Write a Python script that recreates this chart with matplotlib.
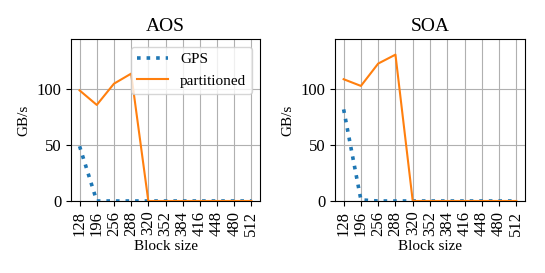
import matplotlib
matplotlib.use('Agg')
import matplotlib.pyplot as plt

# ── Data ─────────────────────────────────────────────────────────────────────
block_sizes = ['128', '196', '256', '288', '320', '352', '384', '416', '448', '480', '512']

aos_gps = [49, 0, 0, 0, 0, 0, 0, 0, 0, 0, 0]
aos_partitioned = [99, 86, 105, 114, 0, 0, 0, 0, 0, 0, 0]

soa_gps = [82, 1, 0, 0, 0, 0, 0, 0, 0, 0, 0]
soa_partitioned = [109, 103, 123, 131, 0, 0, 0, 0, 0, 0, 0]

# ── Style ────────────────────────────────────────────────────────────────────
plt.rcParams.update({
    'font.family': 'serif',
    'font.serif': ['Liberation Serif', 'DejaVu Serif'],
    'font.size': 11,
    'axes.titlesize': 14,
    'axes.labelsize': 11,
    'xtick.labelsize': 12,
    'ytick.labelsize': 12,
    'legend.fontsize': 11,
})

COLOR_GPS = '#1f77b4'
COLOR_PART = '#ff7f0e'

fig = plt.figure(figsize=(5.45, 2.73), dpi=100)
ax1 = fig.add_axes([71 / 545, 1 - 201 / 273, 189 / 545, 162 / 273])
ax2 = fig.add_axes([335 / 545, 1 - 201 / 273, 190 / 545, 162 / 273])

x = list(range(len(block_sizes)))

for ax, title, gps, part in [(ax1, 'AOS', aos_gps, aos_partitioned),
                             (ax2, 'SOA', soa_gps, soa_partitioned)]:
    ax.plot(x, gps, linestyle=':', linewidth=2.6, color=COLOR_GPS, label='GPS', zorder=3)
    ax.plot(x, part, linestyle='-', linewidth=1.5, color=COLOR_PART, label='partitioned', zorder=3)
    ax.set_title(title)
    ax.set_ylabel('GB/s')
    ax.set_xlabel('Block size', labelpad=3)
    ax.set_xticks(x)
    ax.set_xticklabels(block_sizes, rotation=90)
    ax.set_yticks([0, 50, 100])
    ax.set_xlim(-0.5, len(block_sizes) - 0.5)
    ax.set_ylim(0, 145)
    ax.grid(True, color='#b0b0b0', linewidth=0.8)
    ax.set_axisbelow(True)

ax1.legend(loc='upper right', handlelength=2.0)

fig.savefig('out.png', dpi=100)
